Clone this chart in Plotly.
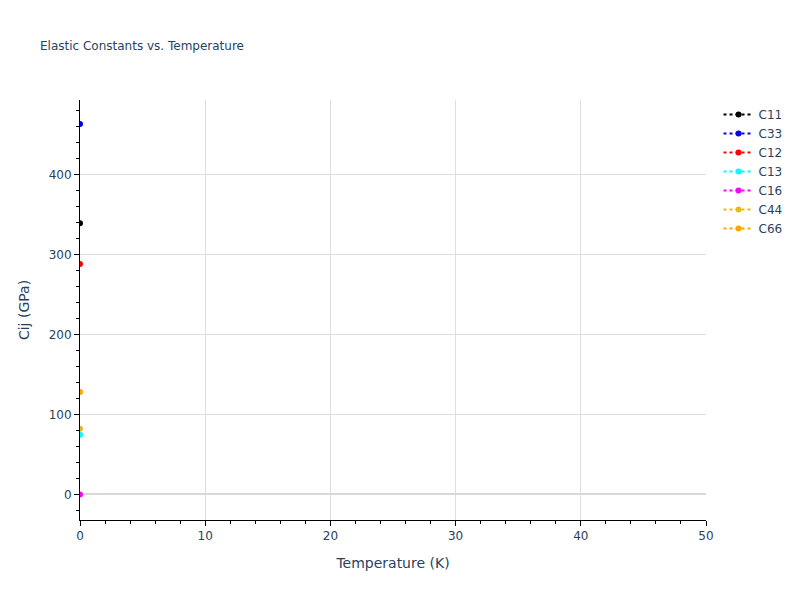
import plotly.graph_objects as go

temperature = [0]
names = ["C11", "C33", "C12", "C13", "C16", "C44", "C66"]
values = {
    "C11": [339],
    "C33": [463],
    "C12": [288],
    "C13": [74.5],
    "C16": [0],
    "C44": [82],
    "C66": [128],
}
colors = ["black", "blue", "red", "cyan", "magenta", "#e6b91e", "orange"]

fig = go.Figure()
for n, c in zip(names, colors):
    fig.add_trace(go.Scatter(
        x=temperature, y=values[n], name=n, mode="lines+markers",
        line=dict(color=c, dash="dot"), marker=dict(color=c, size=6),
    ))

axis_common = dict(
    showline=True, linecolor="black", linewidth=1, ticks="outside",
    tickcolor="black", showgrid=True, gridcolor="#dedede", gridwidth=1,
    zeroline=True, zerolinecolor="#d8d8d8", zerolinewidth=2,
    tickfont=dict(color="#2a3f5f"), title_font=dict(color="#2a3f5f"),
)
fig.update_layout(
    template="plotly_white",
    width=800, height=600,
    font=dict(family="Verdana, DejaVu Sans, sans-serif", color="#2a3f5f"),
    title=dict(text="Elastic Constants vs. Temperature", x=0.05, font=dict(size=12)),
    xaxis=dict(title="Temperature (K)", range=[0, 50], dtick=10,
               minor=dict(ticks="outside", dtick=2, tickcolor="black", showgrid=False),
               **axis_common),
    yaxis=dict(title="Cij (GPa)", range=[-32, 493], dtick=100,
               minor=dict(ticks="outside", dtick=20, tickcolor="black", showgrid=False),
               **axis_common),
    plot_bgcolor="white", paper_bgcolor="white",
)
fig.write_html("out.html", config={"displayModeBar": False},
               post_script="document.body.style.margin='0';")
